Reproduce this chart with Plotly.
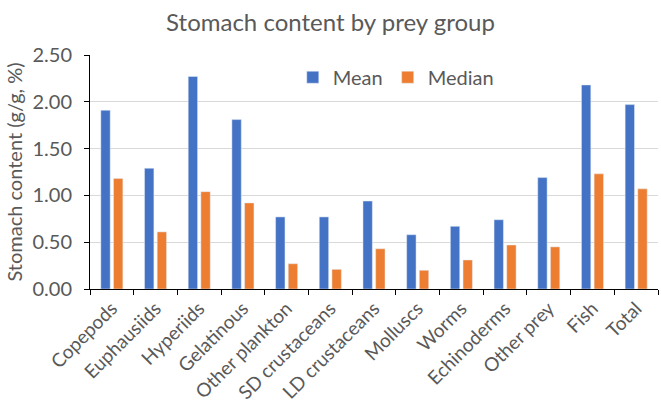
import plotly.graph_objects as go

categories = ["Copepods", "Euphausiids", "Hyperiids", "Gelatinous", "Other plankton",
              "SD crustaceans", "LD crustaceans", "Molluscs", "Worms", "Echinoderms",
              "Other prey", "Fish", "Total"]
mean_vals = [1.91, 1.29, 2.27, 1.81, 0.77, 0.77, 0.94, 0.58, 0.67, 0.74, 1.19, 2.18, 1.97]
median_vals = [1.18, 0.61, 1.04, 0.92, 0.27, 0.21, 0.43, 0.20, 0.31, 0.47, 0.45, 1.23, 1.07]
y_ticks = [0, 0.5, 1.0, 1.5, 2.0, 2.5]

FONT = "Lato"
GREY = "#595959"

fig = go.Figure()
fig.add_trace(go.Bar(x=categories, y=mean_vals, name="Mean", marker_color="#4472C4"))
fig.add_trace(go.Bar(x=categories, y=median_vals, name="Median", marker_color="#ED7D31"))

fig.update_layout(
    width=661, height=419,
    margin=dict(l=90, r=3, t=55, b=130),
    paper_bgcolor="white", plot_bgcolor="white",
    font=dict(family=FONT, color=GREY, size=19),
    title=dict(text="Stomach content by prey group", x=0.5, xanchor="center",
               y=0.945, yanchor="middle", font=dict(size=24, color=GREY, family=FONT)),
    barmode="group", bargap=0.42, bargroupgap=0.26,
    showlegend=True,
    legend=dict(orientation="h", x=0.357, y=0.905, xanchor="left", yanchor="middle",
                font=dict(size=20, color=GREY), bgcolor="rgba(0,0,0,0)",
                itemwidth=30, traceorder="normal"),
)
fig.update_xaxes(
    type="category", tickangle=-45, showline=True, linecolor="black", linewidth=1,
    ticks="outside", tickson="boundaries", ticklen=5, tickcolor="black",
    tickfont=dict(size=19, color=GREY), showgrid=False,
)
fig.update_yaxes(
    range=[0, 2.5], tickvals=y_ticks, tickformat=".2f",
    showline=True, linecolor="black", linewidth=1, ticks="outside", ticklen=5,
    tickcolor="black", showgrid=True, gridcolor="#D9D9D9", gridwidth=1,
    tickfont=dict(size=20, color=GREY), zeroline=False, ticklabelstandoff=8,
    title=dict(text="Stomach content (g/g, %)", font=dict(size=20, color=GREY), standoff=4),
)

fig.write_html("out.html")
